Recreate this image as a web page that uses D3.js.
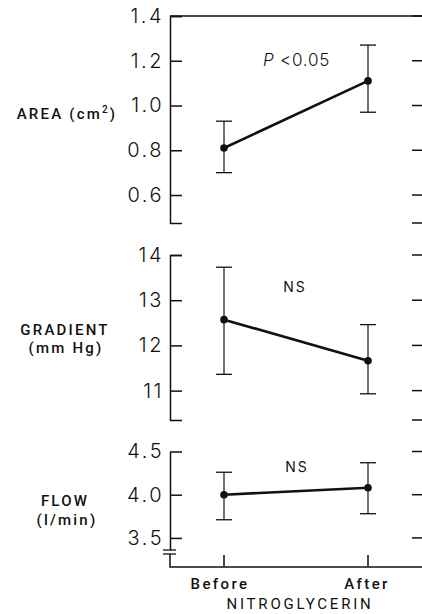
<!DOCTYPE html>
<html>
<head>
<meta charset="utf-8">
<script src="https://cdn.jsdelivr.net/npm/d3@7"></script>
<style>
  body { margin: 0; background: #fff; }
  svg { display: block; }
  .tickLabel text { font-family: "Inter", "Roboto", sans-serif; font-weight: 300; font-size: 20px; letter-spacing: 2.5px; fill: #111; }
  .axisLabel { font-family: "Roboto", sans-serif; font-weight: 500; font-size: 15px; letter-spacing: 2.2px; fill: #111; }
  .note { font-family: "Inter", "Roboto", sans-serif; font-weight: 300; font-size: 17px; letter-spacing: 0.8px; fill: #111; }
</style>
</head>
<body>
<div id="chart"></div>
<script>
// groups on the x axis
var groups = ["Before", "After"];

// area (cm2)
var areaMean = [0.81, 1.11];
var areaLow = [0.70, 0.97];
var areaHigh = [0.93, 1.27];
var areaTicks = [0.6, 0.8, 1.0, 1.2, 1.4];

// gradient (mm Hg)
var gradMean = [12.57, 11.66];
var gradLow = [11.36, 10.93];
var gradHigh = [13.73, 12.46];
var gradTicks = [11, 12, 13, 14];

// flow (l/min)
var flowMean = [4.00, 4.08];
var flowLow = [3.71, 3.78];
var flowHigh = [4.26, 4.37];
var flowTicks = [3.5, 4.0, 4.5];

var notes = ["P <0.05", "NS", "NS"];

var svgWidth = 422, svgHeight = 614;
var axisX = 170, rightX = 424, tickLen = 12;

var svg = d3.select("#chart")
  .append("svg")
  .attr("width", svgWidth)
  .attr("height", svgHeight);

var x = d3.scalePoint()
  .domain(groups)
  .range([224, 368]);

// panel scales
var yArea = d3.scaleLinear().domain([0.475, 1.4]).range([223, 16]);
var yGrad = d3.scaleLinear().domain([10.35, 14]).range([420, 255]);
var yFlow = d3.scaleLinear().domain([3.36, 4.5]).range([550, 451.5]);

var panels = [
  { y: yArea, mean: areaMean, low: areaLow, high: areaHigh, ticks: areaTicks, fmt: d3.format(".1f"), outer: -tickLen },
  { y: yGrad, mean: gradMean, low: gradLow, high: gradHigh, ticks: gradTicks, fmt: d3.format("d"), outer: -tickLen },
  { y: yFlow, mean: flowMean, low: flowLow, high: flowHigh, ticks: flowTicks, fmt: d3.format(".1f"), outer: 0 }
];

panels.forEach(function(p, k) {
  var leftAxis = d3.axisLeft(p.y)
    .tickValues(p.ticks)
    .tickFormat(p.fmt)
    .tickSizeInner(-tickLen)
    .tickSizeOuter(p.outer)
    .tickPadding(6);

  var g = svg.append("g")
    .attr("class", "tickLabel")
    .attr("transform", "translate(" + axisX + ",0)")
    .call(leftAxis);
  g.selectAll("path, line").attr("stroke", "#111").attr("stroke-width", 1.5);
  g.selectAll("text").attr("font-family", null).attr("font-size", null);

  // right side ticks (axis sits just off the page)
  var rightTicks = p.ticks.slice();
  if (k < 2) rightTicks.push(p.y.domain()[0]);
  svg.append("g").selectAll("line")
    .data(rightTicks)
    .enter().append("line")
      .attr("x1", rightX - tickLen)
      .attr("x2", rightX)
      .attr("y1", function(d) { return p.y(d); })
      .attr("y2", function(d) { return p.y(d); })
      .attr("stroke", "#111")
      .attr("stroke-width", 1.5);

  var chart = svg.append("g");

  // error bars
  chart.selectAll(".err")
    .data(groups)
    .enter().append("line")
      .attr("x1", function(d) { return x(d); })
      .attr("x2", function(d) { return x(d); })
      .attr("y1", function(d, i) { return p.y(p.low[i]); })
      .attr("y2", function(d, i) { return p.y(p.high[i]); })
      .attr("stroke", "#111")
      .attr("stroke-width", 1.2);

  [p.low, p.high].forEach(function(arr) {
    chart.selectAll(null)
      .data(groups)
      .enter().append("line")
        .attr("x1", function(d) { return x(d) - 8; })
        .attr("x2", function(d) { return x(d) + 8; })
        .attr("y1", function(d, i) { return p.y(arr[i]); })
        .attr("y2", function(d, i) { return p.y(arr[i]); })
        .attr("stroke", "#111")
        .attr("stroke-width", 1.3);
  });

  var line = d3.line()
    .x(function(d, i) { return x(groups[i]); })
    .y(function(d) { return p.y(d); });

  chart.append("path")
    .datum(p.mean)
    .attr("d", line)
    .attr("fill", "none")
    .attr("stroke", "#111")
    .attr("stroke-width", 2.6);

  chart.selectAll("circle")
    .data(p.mean)
    .enter().append("circle")
      .attr("cx", function(d, i) { return x(groups[i]); })
      .attr("cy", function(d) { return p.y(d); })
      .attr("r", 3.8)
      .attr("fill", "#111");
});

// top frame line of the first panel
svg.append("line")
  .attr("x1", axisX).attr("x2", svgWidth)
  .attr("y1", yArea(1.4)).attr("y2", yArea(1.4))
  .attr("stroke", "#111").attr("stroke-width", 1.5);

// axis break and baseline of the flow panel
var baseY = 567;
svg.append("path")
  .attr("d", "M" + axisX + "," + (yFlow.range()[0] + 4) + "V" + baseY + "H" + svgWidth)
  .attr("fill", "none").attr("stroke", "#111").attr("stroke-width", 1.5);
[0, 4].forEach(function(off) {
  svg.append("line")
    .attr("x1", axisX - 7).attr("x2", axisX + 6)
    .attr("y1", yFlow.range()[0] + off).attr("y2", yFlow.range()[0] + off)
    .attr("stroke", "#111").attr("stroke-width", 1.3);
});
svg.append("g").selectAll("line")
  .data(groups)
  .enter().append("line")
    .attr("x1", function(d) { return x(d); })
    .attr("x2", function(d) { return x(d); })
    .attr("y1", baseY).attr("y2", baseY - tickLen)
    .attr("stroke", "#111").attr("stroke-width", 1.5);

// group labels
svg.append("g").selectAll("text")
  .data(groups)
  .enter().append("text")
    .attr("class", "axisLabel")
    .attr("x", function(d, i) { return x(d) - (i === 0 ? 4 : 1); })
    .attr("y", 589)
    .attr("text-anchor", "middle")
    .style("font-size", "15px")
    .style("letter-spacing", "2.4px")
    .text(function(d) { return d; });

svg.append("text")
  .attr("class", "axisLabel")
  .attr("x", 300).attr("y", 609)
  .attr("text-anchor", "middle")
  .style("font-size", "15px")
  .style("font-weight", 400)
  .style("letter-spacing", "2.8px")
  .text("NITROGLYCERIN");

// y labels
var area = svg.append("text")
  .attr("class", "axisLabel")
  .attr("x", 67).attr("y", 119)
  .attr("text-anchor", "middle");
area.append("tspan").text("AREA (cm");
area.append("tspan").attr("dy", -6).style("font-size", "10px").text("2");
area.append("tspan").attr("dy", 6).text(")");

svg.append("text").attr("class", "axisLabel")
  .attr("x", 65).attr("y", 335).attr("text-anchor", "middle").text("GRADIENT");
svg.append("text").attr("class", "axisLabel")
  .attr("x", 66).attr("y", 353).attr("text-anchor", "middle").text("(mm Hg)");
svg.append("text").attr("class", "axisLabel")
  .attr("x", 65).attr("y", 506).attr("text-anchor", "middle").text("FLOW");
svg.append("text").attr("class", "axisLabel")
  .attr("x", 67).attr("y", 525).attr("text-anchor", "middle").text("(l/min)");

// significance notes
var p0 = svg.append("text").attr("class", "note").attr("x", 263).attr("y", 66);
p0.append("tspan").style("font-style", "italic").text(notes[0].split(" ")[0]);
p0.append("tspan").text(" " + notes[0].split(" ")[1]);

svg.append("text").attr("class", "note")
  .attr("x", 295).attr("y", 292).attr("text-anchor", "middle")
  .style("font-size", "14px").style("font-weight", 400).style("letter-spacing", "2px")
  .text(notes[1]);
svg.append("text").attr("class", "note")
  .attr("x", 297).attr("y", 472).attr("text-anchor", "middle")
  .style("font-size", "14px").style("font-weight", 400).style("letter-spacing", "2px")
  .text(notes[2]);
</script>
</body>
</html>
